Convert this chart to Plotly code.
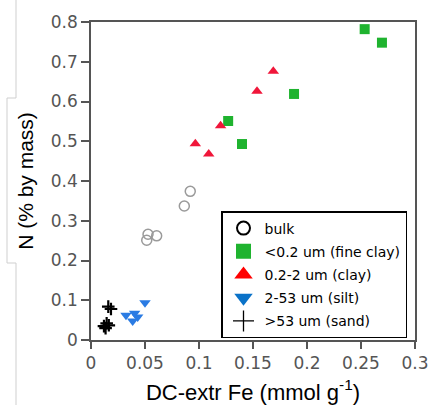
import plotly.graph_objects as go

# ---- data ----
bulk_x = [0.0528, 0.0516, 0.0608, 0.0864, 0.0919]
bulk_y = [0.266, 0.251, 0.262, 0.337, 0.374]

fine_x = [0.2534, 0.2694, 0.188, 0.127, 0.1398]
fine_y = [0.782, 0.748, 0.619, 0.551, 0.493]

clay_x = [0.0966, 0.109, 0.120, 0.1537, 0.1688]
clay_y = [0.494, 0.468, 0.539, 0.626, 0.676]

silt_x = [0.0324, 0.0386, 0.0404, 0.0432, 0.0500]
silt_y = [0.062, 0.048, 0.067, 0.058, 0.094]

sand_x = [0.016, 0.0185, 0.0145, 0.012, 0.0165, 0.0135]
sand_y = [0.084, 0.078, 0.042, 0.035, 0.037, 0.030]

legend_names = ["bulk", "<0.2 um (fine clay)", "0.2-2 um (clay)", "2-53 um (silt)", ">53 um (sand)"]

GREEN = "#1fb32f"
RED = "#f0163a"
BLUE = "#2a7be3"

fig = go.Figure()

# data traces (no legend)
fig.add_trace(go.Scatter(x=bulk_x, y=bulk_y, mode="markers", showlegend=False,
                         marker=dict(symbol="circle-open", size=10, color="#9a9a9a", line=dict(width=1.5, color="#9a9a9a"))))
fig.add_trace(go.Scatter(x=fine_x, y=fine_y, mode="markers", showlegend=False,
                         marker=dict(symbol="square", size=10, color=GREEN)))
fig.add_trace(go.Scatter(x=clay_x, y=clay_y, mode="markers", showlegend=False,
                         marker=dict(symbol="triangle-up", size=10, color=RED)))
fig.add_trace(go.Scatter(x=silt_x, y=silt_y, mode="markers", showlegend=False,
                         marker=dict(symbol="triangle-down", size=10, color=BLUE)))
fig.add_trace(go.Scatter(x=sand_x, y=sand_y, mode="markers", showlegend=False,
                         marker=dict(symbol="cross-thin-open", size=9, color="black", line=dict(width=2.2, color="black"))))

# legend entries
leg_markers = [
    dict(symbol="circle-open", size=13, color="black", line=dict(width=2, color="black")),
    dict(symbol="square", size=15, color=GREEN),
    dict(symbol="triangle-up", size=16, color="#ff0000"),
    dict(symbol="triangle-down", size=16, color="#0a72c8"),
    dict(symbol="cross-thin-open", size=15, color="black", line=dict(width=1.3, color="black")),
]
for i, (name, mk) in enumerate(zip(legend_names, leg_markers)):
    fig.add_trace(go.Scatter(x=[None], y=[None], mode="markers", name=name, marker=mk,
                             legendgroup=f"g{i}"))

W, H = 429, 405
L, R, T, B = 91, 14, 22, 65
pw, ph = W - L - R, H - T - B

def px_x(p):
    return (p - L) / pw

def px_y(p):
    return (H - B - p) / ph

# artifact lines at the far left of the reference image
for x0, y0, x1, y1 in [(16, 0, 16, 98), (16, 263, 16, 405), (7, 98, 7, 263), (7, 98, 16, 98), (7, 263, 16, 263)]:
    fig.add_shape(type="line", xref="paper", yref="paper",
                  x0=px_x(x0), y0=px_y(y0), x1=px_x(x1), y1=px_y(y1),
                  line=dict(color="#cfcfcf", width=1))

fig.update_layout(
    width=W, height=H,
    margin=dict(l=L, r=R, t=T, b=B, autoexpand=False),
    paper_bgcolor="white", plot_bgcolor="white",
    font=dict(family="DejaVu Sans", color="#555555"),
    legend=dict(x=px_x(221), y=px_y(211), xanchor="left", yanchor="top",
                bordercolor="black", borderwidth=1.5, bgcolor="white",
                font=dict(family="DejaVu Sans", size=14, color="black"),
                itemwidth=32, tracegroupgap=2, traceorder="grouped"),
)
fig.update_xaxes(range=[0, 0.3], tickvals=[0, 0.05, 0.1, 0.15, 0.2, 0.25, 0.3],
                 ticktext=["0", "0.05", "0.1", "0.15", "0.2", "0.25", "0.3"],
                 automargin=False,
                 showgrid=False, zeroline=False, showline=True, mirror=True,
                 linecolor="#555555", linewidth=1.5, ticks="outside", ticklen=7,
                 tickcolor="#555555", tickwidth=1.5,
                 tickfont=dict(family="DejaVu Sans", size=17, color="#555555"),
                 title=dict(text="DC-extr Fe (mmol g<sup>-1</sup>)", standoff=12,
                            font=dict(family="Liberation Sans", size=22, color="black")))
fig.update_yaxes(range=[0, 0.8], tickvals=[0, 0.1, 0.2, 0.3, 0.4, 0.5, 0.6, 0.7, 0.8],
                 ticktext=["0", "0.1", "0.2", "0.3", "0.4", "0.5", "0.6", "0.7", "0.8"],
                 automargin=False,
                 showgrid=False, zeroline=False, showline=True, mirror=True,
                 linecolor="#555555", linewidth=1.5, ticks="outside", ticklen=8,
                 tickcolor="#555555", tickwidth=1.5,
                 tickfont=dict(family="DejaVu Sans", size=17, color="#555555"),
                 title=dict(text="N (% by mass)", standoff=11,
                            font=dict(family="Liberation Sans", size=21, color="black")))

fig.write_html("out.html", config={"displayModeBar": False},
               post_script="document.body.style.margin='0px';document.body.style.overflow='hidden';")
